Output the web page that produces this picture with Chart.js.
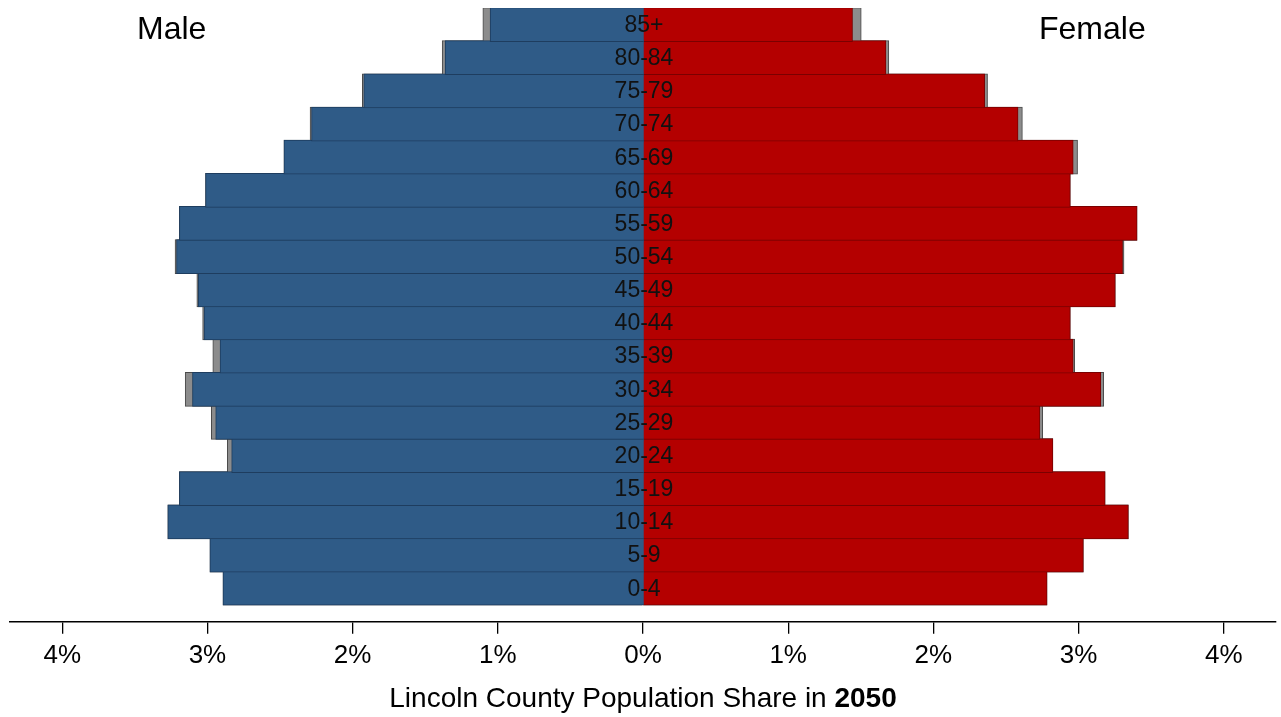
<!DOCTYPE html>
<html>
<head>
<meta charset="utf-8">
<script src="https://cdn.jsdelivr.net/npm/chart.js@4"></script>
<style>
  body { margin: 0; background: #fff; }
</style>
</head>
<body>
<canvas id="pyramid" width="1281" height="717"></canvas>
<script>
// age groups, youngest first
const ages = ['0-4', '5-9', '10-14', '15-19', '20-24', '25-29', '30-34', '35-39', '40-44',
  '45-49', '50-54', '55-59', '60-64', '65-69', '70-74', '75-79', '80-84', '85+'];

// share of county population, percent (2050)
const male2050 = [2.89, 2.98, 3.27, 3.19, 2.83, 2.94, 3.10, 2.91, 3.02, 3.06, 3.21, 3.19, 3.01, 2.47, 2.28, 1.92, 1.36, 1.05];
const female2050 = [2.78, 3.03, 3.34, 3.18, 2.82, 2.73, 3.15, 2.96, 2.94, 3.25, 3.30, 3.40, 2.94, 2.96, 2.58, 2.35, 1.67, 1.44];

// grey comparison bars drawn behind
const maleCompare = [2.89, 2.98, 3.27, 3.19, 2.86, 2.97, 3.15, 2.96, 3.03, 3.07, 3.22, 3.19, 3.01, 2.47, 2.29, 1.93, 1.38, 1.10];
const femaleCompare = [2.78, 3.03, 3.34, 3.18, 2.82, 2.75, 3.17, 2.97, 2.94, 3.25, 3.31, 3.40, 2.94, 2.99, 2.61, 2.37, 1.69, 1.50];

const xTicks = [-4, -3, -2, -1, 0, 1, 2, 3, 4];

const FONT = '"Liberation Sans", Arial, sans-serif';

const pts = (arr, sign) => arr.map((v, i) => ({ x: sign * v, y: i }));

const ageLabels = {
  id: 'ageLabels',
  afterDatasetsDraw(chart) {
    const { ctx, scales: { x, y } } = chart;
    ctx.save();
    ctx.font = '23px ' + FONT;
    ctx.fillStyle = '#111';
    ctx.textAlign = 'center';
    ctx.textBaseline = 'middle';
    ages.forEach((a, i) => ctx.fillText(a, x.getPixelForValue(0) + 1, y.getPixelForValue(i) + 1));
    ctx.restore();
  }
};

const texts = {
  id: 'texts',
  afterDraw(chart) {
    const ctx = chart.ctx;
    ctx.save();
    ctx.fillStyle = '#000';
    ctx.textBaseline = 'alphabetic';
    ctx.font = '32px ' + FONT;
    ctx.fillText('Male', 137, 39);
    ctx.fillText('Female', 1039, 39);

    // axis title with bold year
    const a = 'Lincoln County Population Share in ';
    const b = '2050';
    ctx.font = '28px ' + FONT;
    const wa = ctx.measureText(a).width;
    ctx.font = 'bold 28px ' + FONT;
    const wb = ctx.measureText(b).width;
    const cx = chart.scales.x.getPixelForValue(0);
    const x0 = cx - (wa + wb) / 2;
    ctx.font = '28px ' + FONT;
    ctx.fillText(a, x0, 707);
    ctx.font = 'bold 28px ' + FONT;
    ctx.fillText(b, x0 + wa, 707);
    ctx.restore();
  }
};

const barOpts = { barPercentage: 1, categoryPercentage: 1, grouped: false, borderWidth: 1, inflateAmount: 0.8 };

new Chart(document.getElementById('pyramid'), {
  type: 'bar',
  data: {
    datasets: [
      { label: 'Male', data: pts(male2050, -1), base: 0.005, backgroundColor: '#2f5b87', borderColor: '#1e3d5f', order: 1, ...barOpts },
      { label: 'Female', data: pts(female2050, 1), base: -0.002, backgroundColor: '#b40000', borderColor: '#7a0000', order: 1, ...barOpts },
      { label: 'Male comparison', data: pts(maleCompare, -1), backgroundColor: '#8c8c8c', borderColor: '#4a4a4a', order: 2, ...barOpts },
      { label: 'Female comparison', data: pts(femaleCompare, 1), backgroundColor: '#8c8c8c', borderColor: '#4a4a4a', order: 2, ...barOpts }
    ]
  },
  options: {
    indexAxis: 'y',
    responsive: false,
    animation: false,
    devicePixelRatio: 1,
    layout: { padding: { left: 10, right: 5, top: 8, bottom: 40 } },
    plugins: { legend: { display: false }, tooltip: { enabled: false } },
    scales: {
      y: { type: 'linear', display: false, offset: false, min: -1.014, max: 17.5 },
      x: {
        type: 'linear',
        min: -4.36,
        max: 4.36,
        afterBuildTicks: s => { s.ticks = xTicks.map(v => ({ value: v })); },
        grid: { display: true, drawOnChartArea: false, drawTicks: true, tickLength: 12, color: '#000', lineWidth: 1.3 },
        border: { display: true, color: '#000', width: 1.5 },
        ticks: {
          padding: 6,
          color: '#000',
          font: { family: FONT, size: 26 },
          callback: v => Math.abs(v) + '%'
        }
      }
    }
  },
  plugins: [ageLabels, texts]
});
</script>
</body>
</html>
